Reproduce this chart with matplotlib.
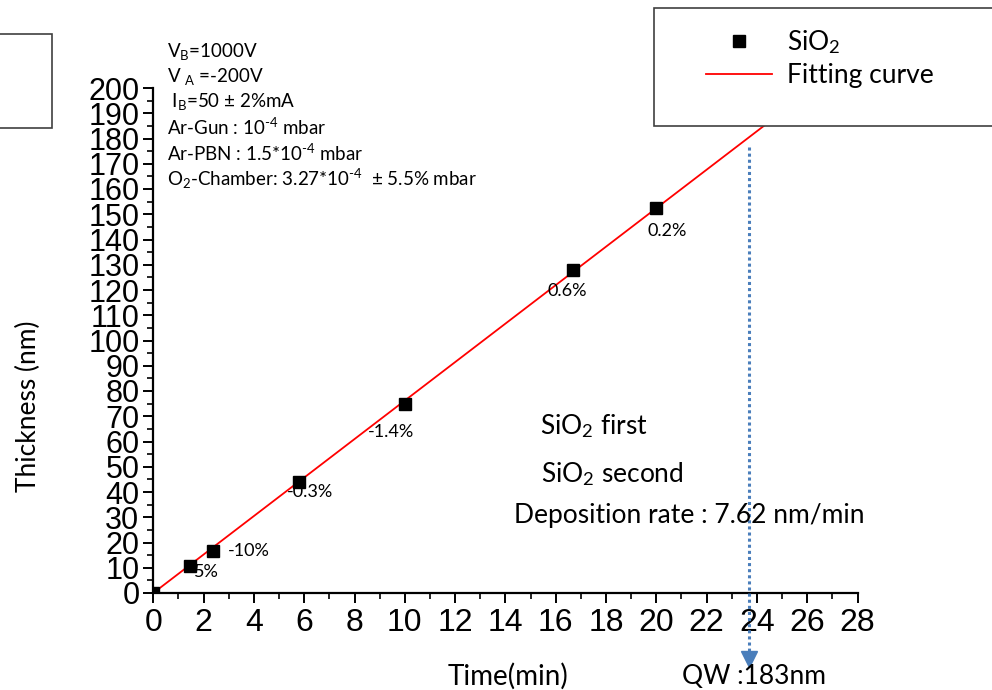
import numpy as np
import matplotlib.pyplot as plt
from matplotlib.patches import Rectangle
from matplotlib.ticker import MultipleLocator

# measured film thickness vs deposition time
time_min = [0.0, 1.46, 2.38, 5.8, 10.0, 16.68, 20.0]
thickness_nm = [0.0, 10.8, 16.7, 44.0, 75.0, 127.8, 152.6]
deviation = ["", "5%", "-10%", "-0.3%", "-1.4%", "0.6%", "0.2%"]
# label offsets in pixels (dx, dy) from each point
label_offsets = [(0, 0), (4, -6), (15, 0), (-12, -10), (-37, -28), (-25, -21), (-9, -23)]

rate = 7.62          # nm/min, linear fit through the origin
qw_time = 23.7       # min
qw_thickness = 183   # nm

conditions = [
    r"V$_\mathregular{B}$=1000V",
    r"V $_\mathregular{A}$ =-200V",
    r" I$_\mathregular{B}$=50 ± 2%mA",
    r"Ar-Gun : 10$^{\text{-4}}$ mbar",
    r"Ar-PBN : 1.5*10$^{\text{-4}}$ mbar",
    r"O$_\mathregular{2}$-Chamber: 3.27*10$^{\text{-4}}$  ± 5.5% mbar",
]

plt.rcParams['font.family'] = ['Lato', 'DejaVu Sans']
plt.rcParams['mathtext.fontset'] = 'custom'
plt.rcParams['mathtext.rm'] = 'Lato'
plt.rcParams['mathtext.it'] = 'Lato:italic'
plt.rcParams['mathtext.bf'] = 'Lato:bold'

W, H = 992, 690
fig = plt.figure(figsize=(W / 100, H / 100), dpi=100)


def fx(px):
    return px / W


def fy(py):
    return 1 - py / H


ax = fig.add_axes([fx(153.3), fy(593), fx(857.5) - fx(153.3), fy(88) - fy(593)])
ax.set_xlim(0, 28)
ax.set_ylim(0, 200)
for side in ['top', 'right']:
    ax.spines[side].set_visible(False)
for side in ['left', 'bottom']:
    ax.spines[side].set_linewidth(1.6)

ax.xaxis.set_major_locator(MultipleLocator(2))
ax.xaxis.set_minor_locator(MultipleLocator(1))
ax.yaxis.set_major_locator(MultipleLocator(10))
ax.yaxis.set_minor_locator(MultipleLocator(5))
ax.tick_params(which='major', direction='out', length=7, width=1.4)
ax.tick_params(which='minor', direction='out', length=4, width=1.2)
ax.tick_params(axis='x', pad=4, labelsize=23)
ax.tick_params(axis='y', pad=3, labelsize=22)
for lab in ax.get_xticklabels() + ax.get_yticklabels():
    lab.set_fontfamily('Liberation Sans')

# fitted line
fit_x = np.linspace(0, 28, 50)
fit, = ax.plot(fit_x, rate * fit_x, color='red', lw=1.3, zorder=2, label='Fitting curve')
pts, = ax.plot(time_min, thickness_nm, ls='none', marker='s', ms=8.5, color='black',
               zorder=3, label='SiO$_2$')

for t, h, txt, (dx, dy) in zip(time_min, thickness_nm, deviation, label_offsets):
    if txt:
        ax.annotate(txt, (t, h), xytext=(dx * 0.72, dy * 0.72), textcoords='offset points',
                    ha='left', va='center', fontsize=13, zorder=2.5)

# quarter-wave marker: dotted drop line with arrow head below the axis
qw_top = rate * qw_time - 4
ax.plot([qw_time, qw_time], [qw_top, -28], ls=(0, (1, 1)), lw=2.2, color='#4A7EBB',
        clip_on=False, zorder=3)
ax.plot([qw_time], [-26], marker='v', ms=11, color='#4A7EBB', clip_on=False, zorder=3)

# legend box (runs past the right edge)
ax.add_patch(Rectangle((fx(653.5), fy(126)), fx(1100) - fx(653.5), fy(8.5) - fy(126),
                       transform=fig.transFigure, facecolor='white', edgecolor='#3f3f3f',
                       lw=1.2, clip_on=False, zorder=4))
leg = ax.legend(handles=[pts, fit], loc='center left', bbox_to_anchor=(fx(693), fy(58)),
                bbox_transform=fig.transFigure, frameon=False, fontsize=19,
                handlelength=2.5, handletextpad=0.55, labelspacing=0.25, borderpad=0)
leg.set_zorder(5)

# empty box at the upper left
ax.add_patch(Rectangle((fx(-10), fy(128)), fx(51.5) - fx(-10), fy(34) - fy(128),
                       transform=fig.transFigure, facecolor='white', edgecolor='#3f3f3f',
                       lw=1.2, clip_on=False, zorder=4))

for i, line in enumerate(conditions):
    fig.text(fx(167), fy(51 + 25.5 * i), line, fontsize=13.5, va='center', ha='left')

fig.text(fx(540), fy(426), 'SiO$_2$ first', fontsize=19, va='center', ha='left')
fig.text(fx(541), fy(474), 'SiO$_2$ second', fontsize=19, va='center', ha='left')
fig.text(fx(514), fy(516), 'Deposition rate : %.2f nm/min' % rate, fontsize=19,
         va='center', ha='left')

fig.text(fx(508), fy(676), 'Time(min)', fontsize=20, va='center', ha='center')
fig.text(fx(682), fy(676), 'QW :%dnm' % qw_thickness, fontsize=19, va='center', ha='left')
fig.text(fx(28), fy(406), 'Thickness (nm)', fontsize=19, va='center', ha='center',
         rotation=90)

fig.savefig('out.png', dpi=100)
